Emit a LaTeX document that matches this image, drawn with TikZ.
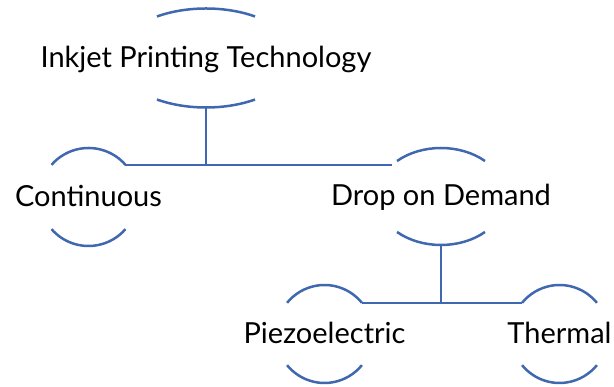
\documentclass[tikz,border=0pt]{standalone}
\usepackage{fontspec}
\setmainfont{Lato}

\definecolor{treeblue}{RGB}{64,104,176}
\tikzset{
  lbl/.style={font=\fontsize{29}{35}\selectfont, text height=26pt, text depth=7pt, inner sep=0pt},
  branch/.style={draw=treeblue, line width=2.5pt},
}
% upper and lower arc round a label: node, x radius, y radius, angle where the arcs stop
\newcommand{\capsarcs}[4]{%
  \coordinate (#1-ne) at ([shift={(#4:#2pt and #3pt)}]#1.center);
  \coordinate (#1-nw) at ([shift={(180-#4:#2pt and #3pt)}]#1.center);
  \coordinate (#1-s) at ([yshift=-#3pt]#1.center);
  \draw[branch] (#1-ne) arc[start angle=#4, end angle=180-#4, x radius=#2pt, y radius=#3pt];
  \draw[branch] ([shift={(180+#4:#2pt and #3pt)}]#1.center) arc[start angle=180+#4, end angle=360-#4, x radius=#2pt, y radius=#3pt];
}

\begin{document}
\begin{tikzpicture}[x=1pt, y=1pt]
\useasboundingbox (0,0) rectangle (614,387);

\node[lbl] (tech) at (206,329) {Inkjet Printing Technology};
\node[lbl] (cont) at (88.5,190) {Continuous};
\node[lbl] (dod) at (441,190.5) {Drop on Demand};
\node[lbl] (piezo) at (324.5,53) {Piezoelectric};
\node[lbl] (thermal) at (559.5,53) {Thermal};

\capsarcs{tech}{90}{49.5}{57}
\capsarcs{cont}{49}{49}{41}
\capsarcs{dod}{64.5}{48.5}{47}
\capsarcs{piezo}{48.5}{49}{39.5}
\capsarcs{thermal}{48.5}{49}{39.5}

\draw[branch] (tech-s) -- (tech-s |- cont-ne);
\draw[branch] (cont-ne) -- ([xshift=-5pt]cont-ne -| dod-nw);

\draw[branch] (dod-s) -- (dod-s |- piezo-ne);
\draw[branch] (piezo-ne) -- (thermal-nw);
\end{tikzpicture}
\end{document}
